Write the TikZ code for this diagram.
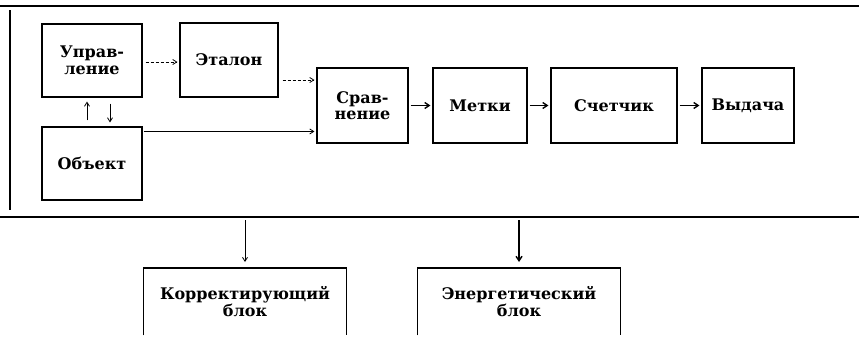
\documentclass[tikz,border=0pt]{standalone}
\usepackage{fontspec}
\setmainfont{DejaVu Serif}
\usetikzlibrary{arrows.meta}
\begin{document}
\begin{tikzpicture}[x=1pt,y=-1pt,
  box/.style={draw, line width=1.1pt, inner sep=0pt, align=center,
    font=\fontsize{16}{16.5}\selectfont\bfseries},
  obox/.style={inner sep=0pt, align=center,
    font=\fontsize{16}{16.5}\selectfont\bfseries},
  frame/.style={line width=1.3pt},
  thinarr/.style={line width=0.8pt, -{Straight Barb[length=4pt,width=5pt]}},
  thickarr/.style={line width=1.4pt, -{Straight Barb[length=4.5pt,width=6pt]}}]
\useasboundingbox (0,0) rectangle (859,341);
% outer frame
\draw[frame] (0,6) -- (859,6);
\draw[frame] (0,217) -- (859,217);
\draw[frame] (10,10) -- (10,210);
% boxes
\node[box, minimum width=100pt, minimum height=73pt] (upr) at (92,60.5) {Управ-\\ление};
\node[box, minimum width=98pt, minimum height=74pt] (etal) at (229,60) {Эталон};
\node[box, minimum width=100pt, minimum height=73pt] (obj) at (92,163.5) {Объект};
\node[box, minimum width=91pt, minimum height=75pt] (srav) at (362.5,105.5) {Срав-\\нение};
\node[box, minimum width=94pt, minimum height=75pt] (metki) at (480,105.5) {Метки};
\node[box, minimum width=126pt, minimum height=75pt] (sch) at (614,105.5) {Счетчик};
\node[box, minimum width=92pt, minimum height=75pt] (vyd) at (748,105.5) {Выдача};
% bottom open boxes
\node[obox, minimum width=202pt, minimum height=67pt, anchor=north] (kor) at (245,268) {Корректирующий\\блок};
\node[obox, minimum width=202pt, minimum height=67pt, anchor=north] (en) at (519,268) {Энергетический\\блок};
\draw[line width=1.1pt] (kor.south west) -- (kor.north west) -- (kor.north east) -- (kor.south east);
\draw[line width=1.1pt] (en.south west) -- (en.north west) -- (en.north east) -- (en.south east);
% connectors
\draw[thinarr, shorten <=6pt, shorten >=4pt] ([xshift=-5pt]obj.north) -- ([xshift=-5pt]upr.south);
\draw[thinarr, shorten <=6pt, shorten >=4pt] ([xshift=18pt]upr.south) -- ([xshift=18pt]obj.north);
\draw[thinarr, dashed, dash pattern=on 3pt off 2pt, shorten <=3pt, shorten >=2pt] ([yshift=-1.5pt]upr.east) -- ([yshift=-1.5pt]upr.east -| etal.west);
\draw[thinarr, dashed, dash pattern=on 3pt off 2pt, shorten <=4pt, shorten >=2pt] ([yshift=-20pt]etal.east) -- ([yshift=-20pt]etal.east -| srav.west);
\draw[thinarr, shorten <=1pt, shorten >=2pt] ([yshift=-5pt]obj.north east) -- ([yshift=-5pt]obj.north east -| srav.west);
\draw[thickarr, shorten <=2pt, shorten >=2pt] (srav) -- (metki);
\draw[thickarr, shorten <=2pt, shorten >=2pt] (metki) -- (sch);
\draw[thickarr, shorten <=2pt, shorten >=2pt] (sch) -- (vyd);
\coordinate (k0) at (kor.north |- 0,220);
\coordinate (e0) at (en.north |- 0,220);
\draw[thinarr, shorten >=6pt] (k0) -- (kor.north);
\draw[thickarr, shorten >=6pt] (e0) -- (en.north);
\end{tikzpicture}
\end{document}
